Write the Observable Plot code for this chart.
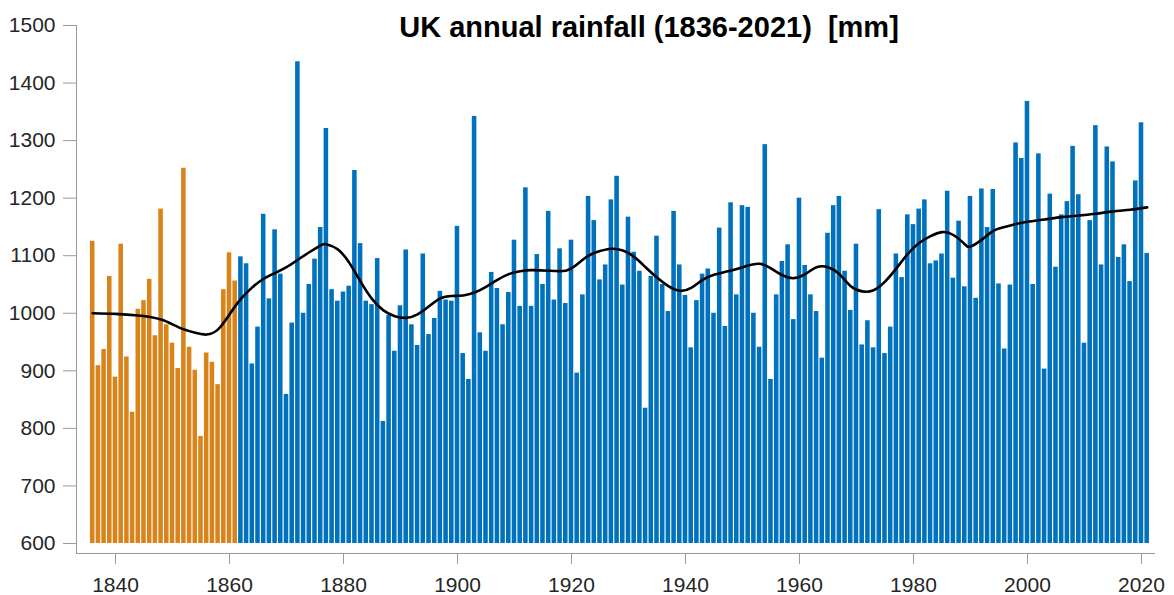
<!DOCTYPE html>
<html>
<head>
<meta charset="utf-8">
<script src="https://cdn.jsdelivr.net/npm/d3@7"></script>
<script src="https://cdn.jsdelivr.net/npm/@observablehq/plot@0.6"></script>
<style>
  html, body { margin: 0; padding: 0; background: #fff; }
  #wrap { position: relative; width: 1174px; height: 595px; font-family: "Liberation Sans", Arial, Helvetica, sans-serif; }
  #title { position: absolute; left: 649px; top: 11px; transform: translateX(-50%); font-size: 29px; line-height: 32px; font-weight: bold; color: #000; white-space: pre; }
</style>
</head>
<body>
<div id="wrap">
  <div id="chart"></div>
  <div id="title">UK annual rainfall (1836-2021)  [mm]</div>
</div>
<script>
// ---- Data ----
const startYear = 1836;
const lastEarlyYear = 1861;
const rainfall = [
  1125, 909, 937, 1064, 889, 1120, 924, 828, 1007, 1022, // 1836-1845
  1059, 961, 1181, 980, 948, 904, 1252, 941, 901, 786,   // 1846-1855
  931, 915, 876, 1041, 1105, 1056,                        // 1856-1861
  1098, 1086, 912, 976, 1172, 1025, 1145, 1068, 859, 983, // 1862-1871
  1437, 1000, 1050, 1094, 1149, 1321, 1041, 1021, 1037, 1047, // 1872-1881
  1248, 1121, 1021, 1015, 1095, 812, 996, 934, 1013, 1110, // 1882-1891
  980, 944, 1103, 963, 991, 1038, 1023, 1021, 1151, 930,  // 1892-1901
  885, 1342, 966, 934, 1071, 1043, 980, 1036, 1127, 1012, // 1902-1911
  1218, 1012, 1102, 1050, 1177, 1023, 1112, 1017, 1127, 896, // 1912-1921
  1032, 1203, 1161, 1058, 1084, 1197, 1238, 1049, 1167, 1106, // 1922-1931
  1073, 835, 1064, 1134, 1050, 1003, 1177, 1084, 1031, 940, // 1932-1941
  1022, 1068, 1077, 1000, 1148, 977, 1192, 1032, 1187, 1184, // 1942-1951
  1000, 941, 1293, 885, 1032, 1090, 1119, 989, 1200, 1083, // 1952-1961
  1032, 1003, 922, 1139, 1187, 1203, 1073, 1005, 1120, 945, // 1962-1971
  987, 940, 1180, 930, 976, 1103, 1062, 1171, 1154, 1181, // 1972-1981
  1197, 1086, 1091, 1103, 1212, 1061, 1160, 1046, 1203, 1026, // 1982-1991
  1216, 1149, 1215, 1051, 938, 1049, 1296, 1269, 1368, 1050, // 1992-2001
  1277, 903, 1207, 1080, 1171, 1194, 1290, 1206, 948, 1161, // 2002-2011
  1326, 1084, 1289, 1263, 1097, 1119, 1055, 1230, 1331, 1104 // 2012-2021
];
const smoothYears = [1836,1840,1844,1848,1851,1854,1856,1858,1860,1862,1864,1866,1868,1870,1872,1874,1876,1877,1879,1881,1883,1885,1887,1889,1891,1893,1895,1897,1899,1901,1903,1905,1907,1909,1911,1913,1916,1919,1921,1923,1925,1927,1929,1931,1933,1935,1937,1939,1941,1943,1945,1947,1949,1951,1953,1955,1957,1959,1961,1963,1965,1967,1969,1971,1973,1975,1977,1979,1981,1983,1985,1987,1989,1990,1992,1994,1996,1998,2000,2003,2006,2009,2012,2015,2018,2021];
const smoothValues = [1000,999,996,989,976,966,963,972,998,1025,1045,1060,1070,1080,1093,1106,1118,1120,1111,1088,1055,1025,1005,995,992,998,1012,1026,1030,1031,1036,1046,1058,1068,1073,1075,1074,1074,1085,1100,1108,1112,1109,1098,1080,1062,1047,1039,1044,1058,1067,1072,1077,1083,1086,1078,1066,1061,1068,1080,1080,1068,1047,1038,1040,1055,1078,1103,1122,1134,1141,1136,1120,1116,1128,1143,1150,1155,1159,1163,1167,1170,1173,1177,1180,1184];
const yTicks = [600, 700, 800, 900, 1000, 1100, 1200, 1300, 1400, 1500];
const xTicks = [1840, 1860, 1880, 1900, 1920, 1940, 1960, 1980, 2000, 2020];

// ---- Build tables ----
const bars = rainfall.map((v, i) => ({year: startYear + i, value: v}));
const early = bars.filter(d => d.year <= lastEarlyYear);
const late = bars.filter(d => d.year > lastEarlyYear);
const smooth = smoothYears.map((y, i) => ({year: y, value: smoothValues[i]}));

const orange = "#D8841A";
const blue = "#0072BD";
const axisGray = "#9a9a9a";
const yMin = 582.6, yMax = 1500;
const xMin = 1833.16, xMax = 2022.46;

const chart = Plot.plot({
  width: 1174,
  height: 595,
  marginLeft: 76,
  marginRight: 19,
  marginTop: 25,
  marginBottom: 42,
  style: {fontFamily: "'Liberation Sans', Arial, Helvetica, sans-serif", background: "white"},
  x: {domain: [xMin, xMax]},
  y: {domain: [yMin, yMax]},
  marks: [
    Plot.rectY(early, {x1: d => d.year - 0.4, x2: d => d.year + 0.4, y1: d => 600, y2: "value", fill: orange}),
    Plot.rectY(late, {x1: d => d.year - 0.4, x2: d => d.year + 0.4, y1: d => 600, y2: "value", fill: blue}),
    Plot.line(smooth, {x: "year", y: "value", curve: "natural", stroke: "black", strokeWidth: 2.6}),
    Plot.ruleX([xMin], {y1: yMin, y2: yMax, stroke: axisGray}),
    Plot.ruleY([yMin], {x1: xMin, x2: xMax, stroke: axisGray}),
    Plot.axisY({ticks: yTicks, label: null, tickSize: 13, tickPadding: 8, fontSize: 21, stroke: axisGray, fill: "#262626", tickFormat: d => String(d)}),
    Plot.axisX({ticks: xTicks, label: null, tickSize: 11, tickPadding: 13, fontSize: 21, stroke: axisGray, fill: "#262626", tickFormat: d => String(d)})
  ]
});
document.getElementById("chart").appendChild(chart);
</script>
</body>
</html>
